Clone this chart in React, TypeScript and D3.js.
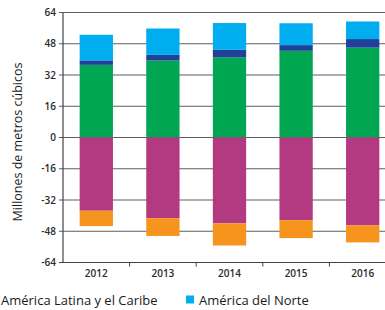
import React from "react";
import * as d3 from "d3";

const years = ["2012", "2013", "2014", "2015", "2016"];
const seriesKeys = ["verde", "azulOscuro", "azulClaro", "magenta", "naranja"];
const verde = [37.2, 39.4, 41.1, 44.4, 46.0];
const azulOscuro = [2.3, 2.9, 3.8, 2.9, 4.4];
const azulClaro = [13.1, 13.5, 13.7, 11.2, 9.0];
const magenta = [-37.5, -41.3, -44.0, -42.3, -45.0];
const naranja = [-7.9, -9.1, -11.3, -9.2, -8.7];
const yTicks = [64, 48, 32, 16, 0, -16, -32, -48, -64];
const colors: Record<string, string> = {
  verde: "#00A651",
  azulOscuro: "#20409A",
  azulClaro: "#00AEEF",
  magenta: "#B33A80",
  naranja: "#F7941D",
};
const legendItems = [
  { label: "América Latina y el Caribe", key: "verde" },
  { label: "América del Norte", key: "azulClaro" },
];

const W = 385;
const H = 310;
const left = 63;
const right = 396;
const top = 12.5;
const bottom = 262.5;

export default function App() {
  const x = d3.scaleBand<string>().domain(years).range([left, right]).paddingInner(0.5).paddingOuter(0.25);
  const y = d3.scaleLinear().domain([-64, 64]).range([bottom, top]);
  const table = years.map((yr, i) => ({
    year: yr,
    verde: verde[i],
    azulOscuro: azulOscuro[i],
    azulClaro: azulClaro[i],
    magenta: magenta[i],
    naranja: naranja[i],
  }));
  const stacked = d3
    .stack<any>()
    .keys(seriesKeys)
    .offset(d3.stackOffsetDiverging)(table);
  const step = x.step();
  const bandEdges = years.map((yr) => (x(yr) as number) - step * 0.25);
  const font = "'Open Sans', 'Noto Sans', sans-serif";

  return (
    <svg width={W} height={H} style={{ position: "absolute", left: 0, top: 0, background: "#fff" }}>
      {yTicks.map((t) => (
        <g key={t}>
          <line x1={left - 4} x2={W} y1={y(t)} y2={y(t)} stroke={t === -64 ? "#444" : "#5e5e5e"} strokeWidth={1.1} />
          <text x={left - 7} y={y(t)} dy="0.35em" textAnchor="end" fontFamily={font} fontSize={10} fontWeight={600} fill="#2a2a2a">
            {t}
          </text>
        </g>
      ))}
      {stacked.map((s) => (
        <g key={s.key} fill={colors[s.key]}>
          {s.map((d, i) => (
            <rect
              key={i}
              x={x(years[i])}
              width={x.bandwidth()}
              y={y(Math.max(d[0], d[1]))}
              height={Math.abs(y(d[0]) - y(d[1]))}
            />
          ))}
        </g>
      ))}
      <line x1={left} x2={left} y1={top} y2={bottom} stroke="#444" strokeWidth={1.2} />
      {bandEdges.slice(1).map((e, i) => (
        <line key={i} x1={e} x2={e} y1={bottom} y2={bottom + 4} stroke="#444" strokeWidth={1} />
      ))}
      {years.map((yr) => (
        <text
          key={yr}
          x={(x(yr) as number) + x.bandwidth() / 2}
          y={277}
          textAnchor="middle"
          fontFamily={font}
          fontSize={10}
          fontWeight={600}
          fill="#2a2a2a"
        >
          {yr}
        </text>
      ))}
      <text
        transform={`translate(22,142) rotate(-90)`}
        textAnchor="middle"
        fontFamily={font}
        fontSize={12.5}
        fill="#1a1a1a"
      >
        Millones de metros cúbicos
      </text>
      <g fontFamily={font} fontSize={13} fill="#1a1a1a">
        <rect x={-12} y={295.5} width={8} height={8} fill={colors[legendItems[0].key]} />
        <text x={1} y={304.5}>{legendItems[0].label}</text>
        <rect x={186} y={295.5} width={8} height={8} fill={colors[legendItems[1].key]} />
        <text x={199} y={304.5}>{legendItems[1].label}</text>
      </g>
    </svg>
  );
}
